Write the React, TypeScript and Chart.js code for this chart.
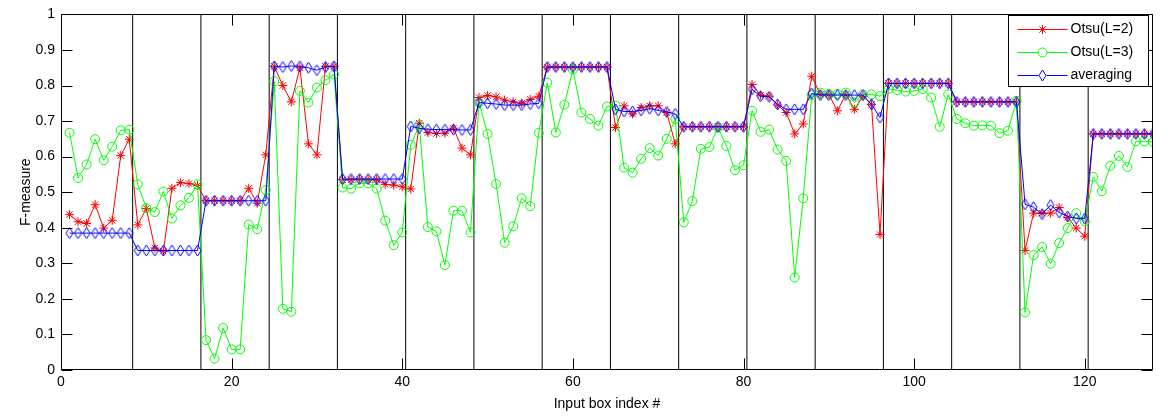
import React, { useEffect, useRef } from 'react';
import { Chart, registerables } from 'chart.js';

Chart.register(...registerables);

// Input box index 1..128
const boxIndex: number[] = Array.from({ length: 128 }, (_, i) => i + 1);

// Boundaries between groups of 8 boxes (black vertical lines)
const dividers: number[] = [8.4, 16.4, 24.4, 32.4, 40.4, 48.4, 56.4, 64.4, 72.4, 80.4, 88.4, 96.4, 104.4, 112.4, 120.4];

const xTicks: number[] = [0, 20, 40, 60, 80, 100, 120];
const xTickLabels: string[] = ['0', '20', '40', '60', '80', '100', '120'];
const yTicks: number[] = [0, 0.1, 0.2, 0.3, 0.4, 0.5, 0.6, 0.7, 0.8, 0.9, 1];
const yTickLabels: string[] = ['0', '0.1', '0.2', '0.3', '0.4', '0.5', '0.6', '0.7', '0.8', '0.9', '1'];

const seriesLabels: string[] = ['Otsu(L=2)', 'Otsu(L=3)', 'averaging'];
const seriesColors: string[] = ['#ff0000', '#00ff00', '#0000ff'];

const otsu2: number[] = [
  0.437, 0.417, 0.412, 0.465, 0.399, 0.421, 0.603, 0.649,
  0.408, 0.454, 0.343, 0.334, 0.511, 0.527, 0.524, 0.519,
  0.476, 0.476, 0.476, 0.476, 0.476, 0.511, 0.469, 0.605,
  0.854, 0.800, 0.754, 0.850, 0.636, 0.605, 0.854, 0.854,
  0.535, 0.535, 0.537, 0.535, 0.535, 0.522, 0.520, 0.515,
  0.509, 0.694, 0.668, 0.665, 0.666, 0.680, 0.624, 0.605,
  0.766, 0.772, 0.768, 0.759, 0.754, 0.750, 0.761, 0.770,
  0.852, 0.852, 0.852, 0.852, 0.852, 0.852, 0.852, 0.852,
  0.682, 0.743, 0.720, 0.738, 0.743, 0.743, 0.724, 0.636,
  0.684, 0.684, 0.684, 0.684, 0.684, 0.684, 0.684, 0.684,
  0.803, 0.773, 0.770, 0.745, 0.724, 0.664, 0.692, 0.826,
  0.775, 0.775, 0.729, 0.775, 0.733, 0.770, 0.747, 0.381,
  0.806, 0.806, 0.806, 0.806, 0.806, 0.806, 0.806, 0.806,
  0.754, 0.754, 0.754, 0.754, 0.754, 0.754, 0.754, 0.754,
  0.336, 0.441, 0.441, 0.441, 0.457, 0.429, 0.399, 0.376,
  0.664, 0.664, 0.664, 0.664, 0.664, 0.664, 0.664, 0.664,
];

const otsu3: number[] = [
  0.667, 0.540, 0.578, 0.649, 0.590, 0.628, 0.674, 0.676,
  0.522, 0.455, 0.444, 0.502, 0.426, 0.463, 0.484, 0.522,
  0.084, 0.032, 0.118, 0.058, 0.058, 0.409, 0.396, 0.506,
  0.812, 0.172, 0.164, 0.785, 0.752, 0.794, 0.815, 0.831,
  0.513, 0.510, 0.525, 0.525, 0.510, 0.420, 0.351, 0.387,
  0.633, 0.689, 0.402, 0.390, 0.295, 0.448, 0.448, 0.387,
  0.752, 0.664, 0.523, 0.358, 0.404, 0.483, 0.461, 0.667,
  0.808, 0.668, 0.746, 0.845, 0.724, 0.706, 0.687, 0.741,
  0.743, 0.569, 0.555, 0.594, 0.624, 0.603, 0.650, 0.706,
  0.415, 0.475, 0.622, 0.627, 0.682, 0.630, 0.562, 0.576,
  0.729, 0.670, 0.676, 0.620, 0.588, 0.260, 0.483, 0.773,
  0.780, 0.776, 0.776, 0.780, 0.752, 0.775, 0.775, 0.770,
  0.790, 0.787, 0.783, 0.785, 0.790, 0.766, 0.684, 0.775,
  0.706, 0.694, 0.687, 0.688, 0.687, 0.666, 0.673, 0.757,
  0.162, 0.323, 0.346, 0.299, 0.357, 0.399, 0.441, 0.418,
  0.543, 0.503, 0.574, 0.602, 0.571, 0.643, 0.643, 0.641,
];

const averaging: number[] = [
  0.385, 0.385, 0.385, 0.385, 0.385, 0.385, 0.385, 0.385,
  0.336, 0.336, 0.336, 0.336, 0.336, 0.336, 0.336, 0.336,
  0.476, 0.476, 0.476, 0.476, 0.476, 0.476, 0.476, 0.476,
  0.854, 0.852, 0.855, 0.854, 0.850, 0.843, 0.852, 0.854,
  0.537, 0.537, 0.537, 0.537, 0.537, 0.537, 0.537, 0.537,
  0.685, 0.680, 0.677, 0.676, 0.676, 0.676, 0.675, 0.675,
  0.752, 0.750, 0.748, 0.745, 0.745, 0.745, 0.748, 0.750,
  0.852, 0.852, 0.852, 0.852, 0.852, 0.852, 0.852, 0.852,
  0.733, 0.727, 0.727, 0.730, 0.735, 0.730, 0.726, 0.720,
  0.684, 0.684, 0.684, 0.684, 0.684, 0.684, 0.684, 0.684,
  0.789, 0.770, 0.768, 0.747, 0.733, 0.733, 0.733, 0.778,
  0.773, 0.773, 0.773, 0.773, 0.773, 0.773, 0.747, 0.710,
  0.806, 0.806, 0.806, 0.806, 0.806, 0.806, 0.806, 0.806,
  0.754, 0.754, 0.754, 0.754, 0.754, 0.754, 0.754, 0.754,
  0.466, 0.458, 0.438, 0.464, 0.443, 0.432, 0.426, 0.426,
  0.664, 0.664, 0.664, 0.664, 0.664, 0.664, 0.664, 0.664,
];

const FONT = "'Liberation Sans', Arial, Helvetica, sans-serif";

function makeDiamond(color: string): HTMLCanvasElement {
  const c = document.createElement('canvas');
  c.width = 9;
  c.height = 13;
  const g = c.getContext('2d')!;
  g.strokeStyle = color;
  g.lineWidth = 1;
  g.beginPath();
  g.moveTo(4.5, 1);
  g.lineTo(8, 6.5);
  g.lineTo(4.5, 12);
  g.lineTo(1, 6.5);
  g.closePath();
  g.stroke();
  return c;
}

function drawStar(ctx: CanvasRenderingContext2D, x: number, y: number, r: number) {
  const d = r * Math.SQRT1_2;
  ctx.beginPath();
  ctx.moveTo(x - r, y); ctx.lineTo(x + r, y);
  ctx.moveTo(x, y - r); ctx.lineTo(x, y + r);
  ctx.moveTo(x - d, y - d); ctx.lineTo(x + d, y + d);
  ctx.moveTo(x - d, y + d); ctx.lineTo(x + d, y - d);
  ctx.stroke();
}

const framePlugin = {
  id: 'matlabFrame',
  afterDatasetsDraw(chart: any) {
    const { ctx, chartArea: a, scales } = chart;
    const xs = scales.x;
    const ys = scales.y;
    const L = Math.round(a.left) + 0.5;
    const R = Math.round(a.right) - 0.5;
    const T = Math.round(a.top) + 0.5;
    const B = Math.round(a.bottom) - 0.5;
    const tl = 11;
    ctx.save();
    ctx.strokeStyle = '#000';
    ctx.lineWidth = 1;
    ctx.beginPath();
    ctx.rect(L, T, R - L, B - T);
    xTicks.forEach((v) => {
      const px = Math.round(xs.getPixelForValue(v)) + 0.5;
      ctx.moveTo(px, B); ctx.lineTo(px, B - tl);
      ctx.moveTo(px, T); ctx.lineTo(px, T + tl);
    });
    yTicks.forEach((v) => {
      const py = Math.round(ys.getPixelForValue(v)) + 0.5;
      ctx.moveTo(L, py); ctx.lineTo(L + tl, py);
      ctx.moveTo(R, py); ctx.lineTo(R - tl, py);
    });
    ctx.stroke();
    ctx.restore();
  },
  afterDraw(chart: any) {
    const { ctx, chartArea: a } = chart;
    const w = 140;
    const h = 71;
    const left = Math.round(a.right) - 5 - w + 0.5;
    const top = Math.round(a.top) + 1.5;
    ctx.save();
    ctx.fillStyle = '#fff';
    ctx.fillRect(left, top, w, h);
    ctx.strokeStyle = '#000';
    ctx.lineWidth = 1;
    ctx.strokeRect(left, top, w, h);
    const rows = [13.5, 36.5, 59.5];
    const diamond = makeDiamond(seriesColors[2]);
    seriesLabels.forEach((label, i) => {
      const yy = Math.round(top + rows[i]) + 0.5;
      const color = seriesColors[i];
      ctx.strokeStyle = color;
      ctx.lineWidth = 1;
      ctx.beginPath();
      ctx.moveTo(left + 9, yy);
      ctx.lineTo(left + 59, yy);
      ctx.stroke();
      const mx = left + 34;
      if (i === 0) drawStar(ctx, mx, yy, 4.5);
      else if (i === 1) {
        ctx.fillStyle = '#fff';
        ctx.beginPath();
        ctx.arc(mx, yy, 4.5, 0, Math.PI * 2);
        ctx.fill();
        ctx.stroke();
      } else {
        ctx.fillStyle = '#fff';
        ctx.fillRect(mx - 4, yy - 6, 8, 12);
        ctx.drawImage(diamond, mx - 4.5, yy - 6.5);
      }
      ctx.fillStyle = '#000';
      ctx.font = `14px ${FONT}`;
      ctx.textAlign = 'left';
      ctx.textBaseline = 'middle';
      ctx.fillText(label, left + 62, yy);
    });
    ctx.restore();
  },
};

export default function App() {
  const canvasRef = useRef<HTMLCanvasElement | null>(null);

  useEffect(() => {
    const canvas = canvasRef.current;
    if (!canvas) return;
    const diamond = makeDiamond(seriesColors[2]);
    const toPoints = (vals: number[]) => vals.map((v, i) => ({ x: boxIndex[i], y: v }));

    const dividerSets = dividers.map((d) => ({
      label: 'divider',
      data: [{ x: d, y: 0 }, { x: d, y: 1 }],
      borderColor: '#000',
      borderWidth: 1,
      pointRadius: 0,
      fill: false,
      order: 10,
    }));

    const seriesVals = [otsu2, otsu3, averaging];
    const styles: any[] = ['star', 'circle', diamond];
    const mainSets = seriesVals.map((vals, i) => ({
      label: seriesLabels[i],
      data: toPoints(vals),
      borderColor: seriesColors[i],
      backgroundColor: 'rgba(0,0,0,0)',
      borderWidth: 1,
      pointStyle: styles[i],
      pointRadius: 4.5,
      pointBorderWidth: 1,
      pointBorderColor: seriesColors[i],
      pointBackgroundColor: 'rgba(0,0,0,0)',
      tension: 0,
      fill: false,
      order: 3 - i,
    }));

    const chart = new Chart(canvas, {
      type: 'line',
      data: { datasets: [...dividerSets, ...mainSets] as any },
      options: {
        responsive: false,
        animation: false,
        devicePixelRatio: 1,
        events: [],
        layout: { padding: { top: 11, right: 15, bottom: 0, left: 0 } },
        plugins: { legend: { display: false }, tooltip: { enabled: false } },
        scales: {
          x: {
            type: 'linear',
            min: 0,
            max: 128,
            grid: { display: false, drawTicks: false },
            border: { display: false },
            afterBuildTicks: (s: any) => {
              s.ticks = xTicks.map((v) => ({ value: v }));
            },
            afterFit: (s: any) => {
              s.height = 49;
            },
            ticks: {
              padding: 4,
              color: '#000',
              font: { family: FONT, size: 14 },
              maxRotation: 0,
              autoSkip: false,
              callback: (v: any) => {
                const k = xTicks.indexOf(Number(v));
                return k >= 0 ? xTickLabels[k] : '';
              },
            },
            title: {
              display: true,
              text: 'Input box index #',
              color: '#000',
              font: { family: FONT, size: 14 },
              padding: { top: 0, bottom: 6 },
            },
          },
          y: {
            type: 'linear',
            min: 0,
            max: 1,
            grid: { display: false, drawTicks: false },
            border: { display: false },
            afterBuildTicks: (s: any) => {
              s.ticks = yTicks.map((v) => ({ value: v }));
            },
            afterFit: (s: any) => {
              s.width = 61;
            },
            ticks: {
              padding: 6,
              color: '#000',
              font: { family: FONT, size: 14 },
              autoSkip: false,
              callback: (v: any) => {
                const k = yTicks.findIndex((t) => Math.abs(t - Number(v)) < 1e-6);
                return k >= 0 ? yTickLabels[k] : '';
              },
            },
            title: {
              display: true,
              text: 'F-measure',
              color: '#000',
              font: { family: FONT, size: 14 },
              padding: { top: 18, bottom: 0 },
            },
          },
        },
      },
      plugins: [framePlugin],
    });

    return () => chart.destroy();
  }, []);

  return (
    <div style={{ position: 'absolute', left: 0, top: 0, width: 1168, height: 419, background: '#fff' }}>
      <canvas ref={canvasRef} width={1168} height={419} />
    </div>
  );
}
